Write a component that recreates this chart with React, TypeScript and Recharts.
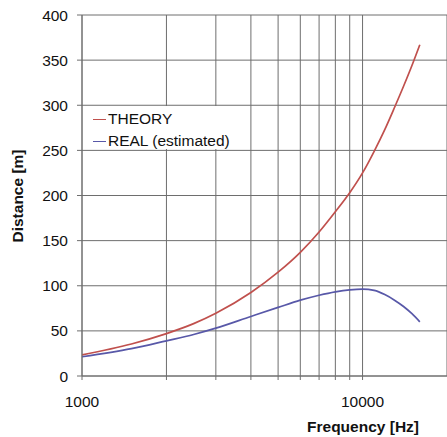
import React from 'react';
import { LineChart, Line, XAxis, YAxis, CartesianGrid, Legend } from 'recharts';

const frequencies = [1000, 1500, 2000, 2500, 3000, 4000, 5000, 6000, 7000, 8000, 9000, 10000, 11000, 12000, 13000, 14000, 15000, 16000];
const theory = [23.5, 35.5, 47, 58, 69.5, 92.5, 115, 137, 159.5, 182, 203, 225, 249, 273, 297.5, 321, 344, 367];
const real = [21.3, 30.3, 39, 46, 53, 66, 76, 84, 89.5, 93.3, 95.5, 96.3, 94.8, 90.2, 84, 77, 69, 60];

const xTicks = [1000, 2000, 3000, 4000, 5000, 6000, 7000, 8000, 9000, 10000];
const xLabelTicks = [1000, 10000];
const yTicks = [0, 50, 100, 150, 200, 250, 300, 350, 400];
const seriesNames = ['THEORY', 'REAL (estimated)'];
const seriesKeys = ['theory', 'real'];
const colors = ['#c0504d', '#5858a8'];

const data = frequencies.map((f, i) => ({ freq: f, theory: theory[i], real: real[i] }));

const FONT = '"Liberation Sans", Arial, sans-serif';
const GRID = '#6e6e6e';

const renderLegend = () => (
  <div
    style={{
      background: '#fff',
      width: 152,
      height: 43,
      paddingTop: 2,
      boxSizing: 'border-box',
      fontFamily: FONT,
      fontSize: 15.5,
      color: '#111',
    }}
  >
    {seriesNames.map((n, i) => (
      <div key={n} style={{ display: 'flex', alignItems: 'center', height: 22, lineHeight: '22px' }}>
        <span
          style={{
            display: 'inline-block',
            width: 13,
            height: 0,
            borderTop: `1.6px solid ${colors[i]}`,
            marginLeft: 9,
            marginRight: 2,
          }}
        />
        <span>{n}</span>
      </div>
    ))}
  </div>
);

export default function App() {
  return (
    <div style={{ position: 'absolute', left: 0, top: 0, width: 447, height: 437, background: '#fff' }}>
      <LineChart width={447} height={437} data={data} margin={{ top: 15, right: 0, left: 0, bottom: 0 }}>
        <CartesianGrid stroke={GRID} strokeWidth={1} />
        <XAxis
          dataKey="freq"
          type="number"
          scale="log"
          domain={[1000, 20000]}
          ticks={xTicks}
          interval={0}
          height={61}
          tickFormatter={(v: number) => (xLabelTicks.includes(v) ? String(v) : '')}
          tick={{ fill: '#111', fontSize: 15.5, fontFamily: FONT }}
          tickSize={4}
          tickMargin={16}
          stroke={GRID}
          allowDataOverflow
          label={{
            value: 'Frequency [Hz]',
            content: () => (
              <text x={419} y={432} textAnchor="end" fontFamily={FONT} fontSize={15.5} fontWeight="bold" fill="#111">
                Frequency [Hz]
              </text>
            ),
          }}
        />
        <YAxis
          type="number"
          domain={[0, 400]}
          ticks={yTicks}
          interval={0}
          width={82}
          tick={{ fill: '#111', fontSize: 15.5, fontFamily: FONT }}
          tickSize={5}
          tickMargin={9}
          stroke={GRID}
          label={{
            value: 'Distance [m]',
            content: () => (
              <text
                x={17}
                y={196}
                transform="rotate(-90 17 196)"
                textAnchor="middle"
                dominantBaseline="central"
                fontFamily={FONT}
                fontSize={15.5}
                fontWeight="bold"
                fill="#111"
              >
                Distance [m]
              </text>
            ),
          }}
        />
        <Legend
          content={renderLegend}
          layout="horizontal"
          verticalAlign="middle"
          align="center"
          wrapperStyle={{ left: 84, top: 106, width: 152, height: 43, margin: 0 }}
        />
        {seriesKeys.map((k, i) => (
          <Line
            key={k}
            dataKey={k}
            name={seriesNames[i]}
            type="monotone"
            stroke={colors[i]}
            strokeWidth={1.7}
            dot={false}
            activeDot={false}
            isAnimationActive={false}
          />
        ))}
      </LineChart>
    </div>
  );
}
